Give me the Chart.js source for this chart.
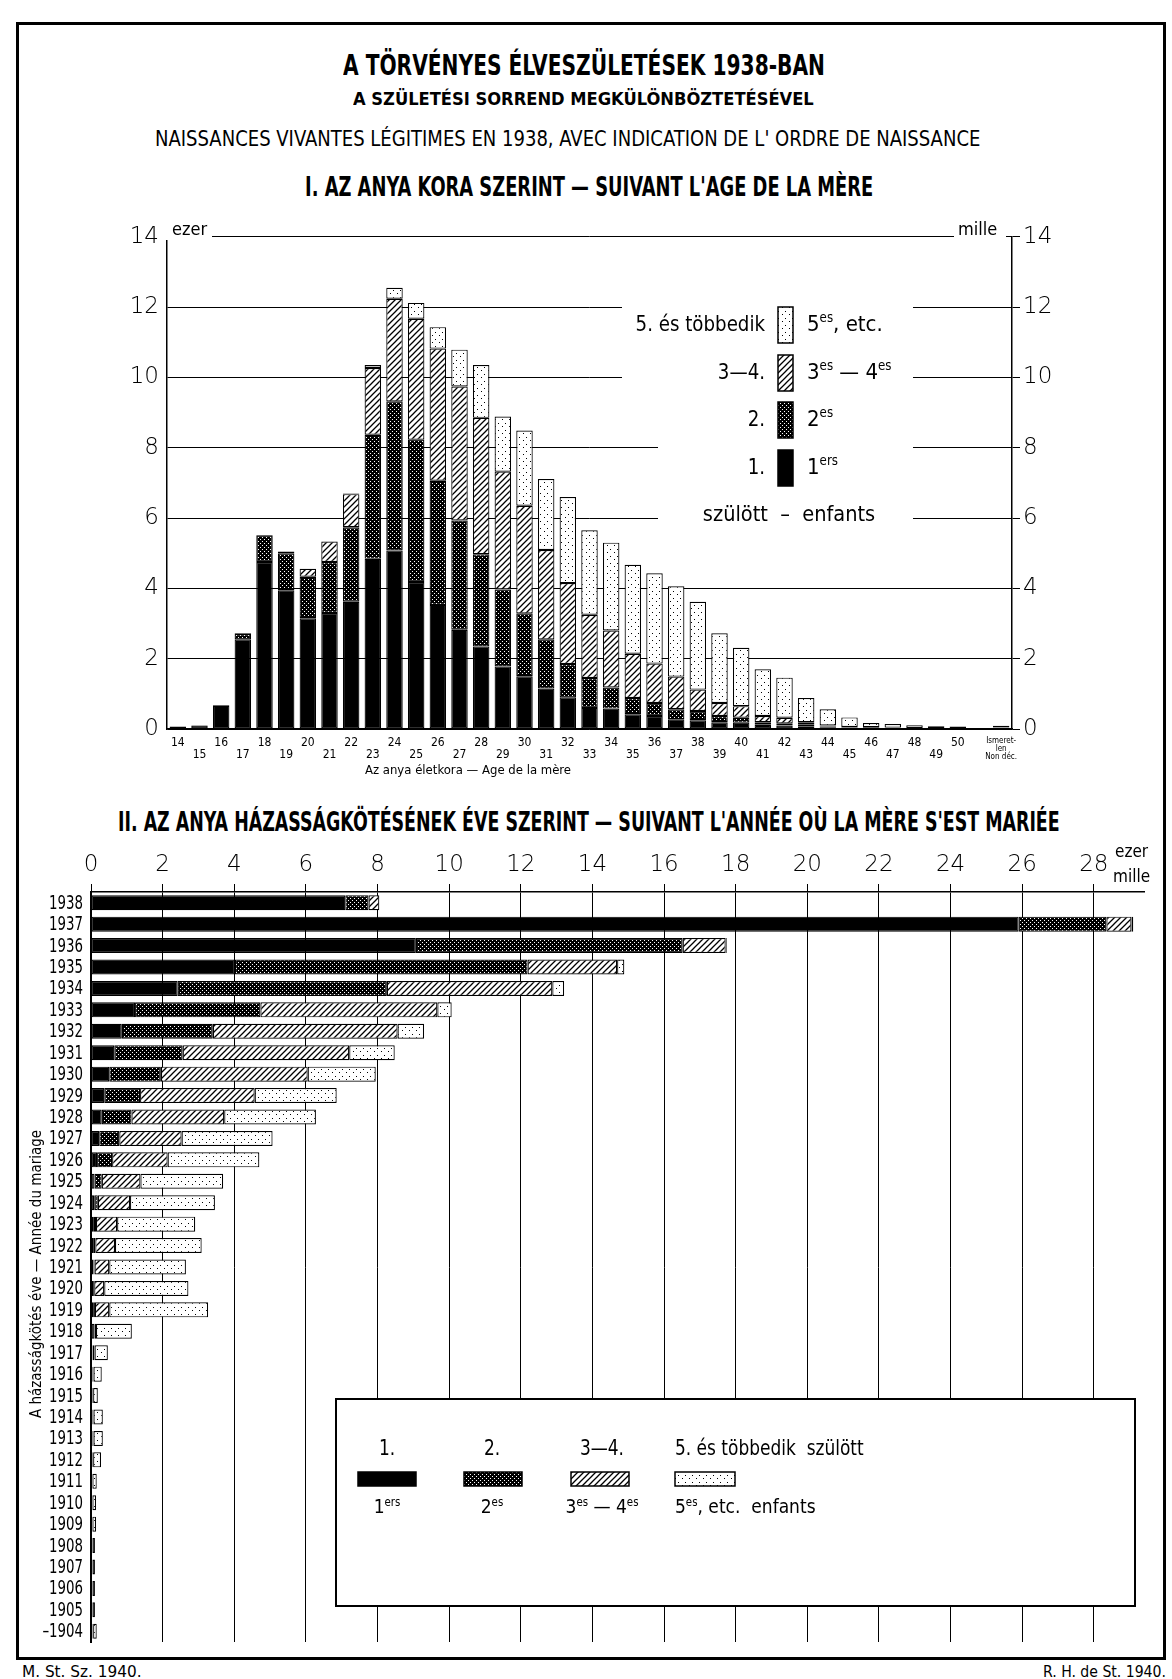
<!DOCTYPE html>
<html>
<head>
<meta charset="utf-8">
<script src="https://cdn.jsdelivr.net/npm/chart.js@4.4.1/dist/chart.umd.min.js"></script>
<style>
body{margin:0;background:#fff;width:1172px;height:1679px;position:relative;overflow:hidden;font-family:"Liberation Sans Narrow","DejaVu Sans Condensed","Liberation Sans",sans-serif;color:#000;}
.frame{position:absolute;left:16px;top:22px;width:1144px;height:1632px;border:3px solid #000;}
.t{position:absolute;white-space:nowrap;line-height:1;transform-origin:0 50%;}
canvas{position:absolute;}
</style>
</head>
<body>
<div class="frame"></div>
<div class="t" data-x="343" data-y="66" data-w="482" style="font-size:28px;font-weight:bold">A TÖRVÉNYES ÉLVESZÜLETÉSEK 1938-BAN</div>
<div class="t" data-x="353" data-y="99" data-w="461" style="font-size:17px;font-weight:bold">A SZÜLETÉSI SORREND MEGKÜLÖNBÖZTETÉSÉVEL</div>
<div class="t" data-x="155" data-y="139" data-w="825" style="font-size:21px">NAISSANCES VIVANTES LÉGITIMES EN 1938, AVEC INDICATION DE L' ORDRE DE NAISSANCE</div>
<div class="t" data-x="305" data-y="187" data-w="568" style="font-size:26px;font-weight:bold">I. AZ ANYA KORA SZERINT — SUIVANT L'AGE DE LA MÈRE</div>
<div class="t" data-x="118" data-y="822" data-w="942" style="font-size:26px;font-weight:bold">II. AZ ANYA HÁZASSÁGKÖTÉSÉNEK ÉVE SZERINT — SUIVANT L'ANNÉE OÙ LA MÈRE S'EST MARIÉE</div>
<div class="t" data-x="22" data-y="1672" data-w="120" style="font-size:16px">M. St. Sz. 1940.</div>
<div class="t" data-x="1043" data-y="1672" data-w="123" style="font-size:16px">R. H. de St. 1940.</div>

<canvas id="c1" width="1060" height="580" style="left:60px;top:215px"></canvas>
<canvas id="c2" width="1150" height="818" style="left:16px;top:840px"></canvas>

<script>
"use strict";

var FONT = '"Liberation Sans Narrow","DejaVu Sans Condensed","Liberation Sans",sans-serif';
var DIGITS = '"DejaVu Sans",sans-serif';

// I. by age of mother (thousands)
var ages = ['14','15','16','17','18','19','20','21','22','23','24','25','26','27','28','29','30','31','32',
	'33','34','35','36','37','38','39','40','41','42','43','44','45','46','47','48','49','50','','Ismeretlen'];
var ageFirst  = [0.07,0.10,0.66,2.55,4.75,3.95,3.15,3.30,3.62,4.84,5.08,4.18,3.53,2.82,2.35,1.78,1.50,1.15,0.90,
	0.60,0.58,0.42,0.37,0.28,0.25,0.19,0.18,0.12,0.10,0.08,0.05,0.03,0.02,0.01,0.01,0.00,0.00,null,0.04];
var ageSecond = [0.00,0.01,0.02,0.15,0.75,1.05,1.18,1.45,2.12,3.53,4.24,4.05,3.53,3.11,2.62,2.19,1.79,1.40,0.95,
	0.85,0.60,0.46,0.37,0.28,0.26,0.18,0.14,0.07,0.06,0.04,0.02,0.01,0.01,0.01,0.01,0.00,0.00,null,0.01];
var ageThird  = [0.00,0.00,0.00,0.02,0.02,0.05,0.23,0.58,0.94,1.90,2.92,3.44,3.76,3.81,3.88,3.35,3.06,2.54,2.30,
	1.80,1.62,1.26,1.12,0.93,0.61,0.37,0.33,0.18,0.16,0.07,0.03,0.02,0.02,0.02,0.01,0.01,0.01,null,0.01];
var ageFifth  = [0.00,0.00,0.00,0.00,0.00,0.00,0.00,0.00,0.02,0.08,0.31,0.45,0.61,1.05,1.50,1.57,2.14,2.02,2.45,
	2.40,2.50,2.53,2.57,2.57,2.50,1.98,1.66,1.33,1.14,0.69,0.46,0.27,0.12,0.10,0.08,0.07,0.06,null,0.03];
var ageTicks = [0,2,4,6,8,10,12,14];

// II. by year of marriage (thousands)
var years = ['1938','1937','1936','1935','1934','1933','1932','1931','1930','1929','1928','1927','1926','1925',
	'1924','1923','1922','1921','1920','1919','1918','1917','1916','1915','1914','1913','1912','1911','1910',
	'1909','1908','1907','1906','1905','\u20131904'];
var yrFirst  = [7.10,25.90,9.07,4.02,2.42,1.23,0.86,0.65,0.51,0.37,0.30,0.23,0.17,0.10,0.09,0.08,0.08,0.07,0.06,
	0.06,0.10,0.04,0.03,0.03,0.03,0.03,0.03,0.02,0.02,0.02,0.02,0.02,0.02,0.02,0.04];
var yrSecond = [0.65,2.45,7.45,8.17,5.84,3.50,2.54,1.91,1.44,1.00,0.83,0.56,0.42,0.20,0.10,0.06,0.04,0.03,0.03,
	0.05,0.01,0.01,0.01,0.01,0.01,0.01,0.01,0.01,0.01,0.01,0.01,0.01,0.01,0.01,0.01];
var yrThird  = [0.30,0.70,1.20,2.50,4.62,4.94,5.16,4.65,4.10,3.20,2.59,1.74,1.55,1.08,0.90,0.59,0.55,0.41,0.28,
	0.40,0.03,0.05,0.03,0.02,0.03,0.03,0.02,0.01,0.01,0.01,0.01,0.01,0.01,0.01,0.01];
var yrFifth  = [0.00,0.05,0.03,0.20,0.33,0.40,0.74,1.27,1.90,2.29,2.56,2.54,2.56,2.31,2.37,2.18,2.42,2.14,2.35,
	2.76,1.00,0.37,0.23,0.13,0.26,0.26,0.22,0.12,0.10,0.10,0.07,0.07,0.07,0.07,0.10];

var orderTop    = ['1.', '2.', '3\u20144.', '5. és többedik'];
var orderBottom = ['1', '2', '3', '5'];

// fit the html titles to the widths of the original lettering
var ts = document.querySelectorAll('.t');
for (var i = 0; i < ts.length; i++) {
	var el = ts[i];
	el.style.left = el.getAttribute('data-x') + 'px';
	el.style.top = (+el.getAttribute('data-y') - el.offsetHeight / 2) + 'px';
	el.style.transform = 'scaleX(' + (+el.getAttribute('data-w') / el.offsetWidth) + ')';
}

function makePattern(kind) {
	var c = document.createElement('canvas');
	var g = c.getContext('2d');
	if (kind == 'cross') {
		c.width = c.height = 4;
		g.fillStyle = '#000'; g.fillRect(0, 0, 4, 4);
		g.fillStyle = '#fff'; g.fillRect(0, 0, 1, 1); g.fillRect(2, 2, 1, 1);
	} else if (kind == 'hatch') {
		c.width = c.height = 6;
		g.fillStyle = '#fff'; g.fillRect(0, 0, 6, 6);
		g.strokeStyle = '#000'; g.lineWidth = 1.3;
		g.beginPath();
		g.moveTo(0, 6); g.lineTo(6, 0);
		g.moveTo(-1, 1); g.lineTo(1, -1);
		g.moveTo(5, 7); g.lineTo(7, 5);
		g.stroke();
	} else {
		c.width = c.height = 7;
		g.fillStyle = '#fff'; g.fillRect(0, 0, 7, 7);
		g.fillStyle = '#000'; g.fillRect(1, 1, 1, 1); g.fillRect(4, 5, 1, 1);
	}
	return g.createPattern(c, 'repeat');
}

var fills = ['#000', makePattern('cross'), makePattern('hatch'), makePattern('dots')];

function narrow(c, text, x, y, size, align, weight, sx) {
	c.save();
	c.font = (weight || 'normal') + ' ' + size + 'px ' + FONT;
	c.textBaseline = 'middle';
	c.textAlign = align || 'left';
	c.translate(x, y);
	c.scale(sx || 1, 1);
	c.fillStyle = '#000';
	c.fillText(text, 0, 0);
	c.restore();
}

// parts: [text, superscript?]
function drawSup(c, parts, x, y, size, align) {
	var w = 0;
	c.save();
	c.fillStyle = '#000';
	c.textBaseline = 'middle';
	c.textAlign = 'left';
	for (var i = 0; i < parts.length; i++) {
		c.font = (parts[i][1] ? size * 0.6 : size) + 'px ' + FONT;
		w += c.measureText(parts[i][0]).width;
	}
	var sx = align == 'center' ? x - w / 2 : (align == 'right' ? x - w : x);
	for (var i = 0; i < parts.length; i++) {
		var s = parts[i][1] ? size * 0.6 : size;
		c.font = s + 'px ' + FONT;
		c.fillText(parts[i][0], sx, parts[i][1] ? y - size * 0.28 : y);
		sx += c.measureText(parts[i][0]).width;
	}
	c.restore();
}

function swatch(c, fill, x, y, w, h) {
	c.save();
	c.fillStyle = fill;
	c.fillRect(x, y, w, h);
	c.strokeStyle = '#000'; c.lineWidth = 1.5;
	c.strokeRect(x, y, w, h);
	c.restore();
}

var topDecor = {
	id: 'topDecor',
	beforeDatasetsDraw: function(chart) {
		var c = chart.ctx;
		c.save();
		c.fillStyle = '#fff';
		c.fillRect(562, 75, 291, 110);
		c.fillRect(598, 185, 255, 130);
		c.fillRect(100, 5, 52, 20);
		c.fillRect(894, 5, 52, 20);
		c.restore();
	},
	afterDraw: function(chart) {
		var c = chart.ctx;
		narrow(c, 'ezer', 112, 15, 18);
		narrow(c, 'mille', 898, 15, 18);
		// legend, highest order on top
		var rowY = [110, 158, 205, 253];
		var right = [[['5', false], ['es', true], [', etc.', false]], [['3', false], ['es', true], [' \u2014 4', false], ['es', true]],
			[['2', false], ['es', true]], [['1', false], ['ers', true]]];
		for (var i = 0; i < 4; i++) {
			var k = 3 - i;
			narrow(c, orderTop[k], 705, rowY[i], 22, 'right', 'normal', 0.92);
			swatch(c, fills[k], 718, rowY[i] - 18, 15, 36);
			drawSup(c, right[i], 747, rowY[i], 22, 'left');
		}
		narrow(c, 'szülött  \u2013  enfants', 729, 300, 22, 'center', 'normal', 0.98);
		narrow(c, 'Az anya életkora \u2014 Age de la mère', 408, 556, 13, 'center');
	}
};

var topDatasets = [ageFirst, ageSecond, ageThird, ageFifth].map(function(d, i) {
	return {
		label: orderTop[i],
		data: d,
		backgroundColor: fills[i],
		borderColor: '#000',
		borderWidth: 1.2,
		borderSkipped: false,
		barPercentage: 0.76,
		categoryPercentage: 1
	};
});

new Chart(document.getElementById('c1').getContext('2d'), {
	type: 'bar',
	data: { labels: ages, datasets: topDatasets },
	options: {
		responsive: false,
		animation: false,
		devicePixelRatio: 1,
		layout: { padding: { top: 19, right: 48, left: 0, bottom: 0 } },
		plugins: { legend: { display: false }, tooltip: { enabled: false } },
		scales: {
			x: {
				stacked: true,
				grid: { display: false },
				border: { color: '#000', width: 1.5 },
				afterFit: function(s) { s.height = 66; },
				ticks: {
					autoSkip: false, maxRotation: 0, padding: 0, color: '#000',
					font: function(ctx) {
						return ctx.index == ages.length - 1 ? { family: FONT, size: 8, lineHeight: 1 } : { family: FONT, size: 12, lineHeight: 1 };
					},
					callback: function(v) {
						var l = ages[v];
						if (l === '') return '';
						if (l == 'Ismeretlen') return ['Ismeret-', 'len', 'Non déc.'];
						return (+l % 2 == 0) ? [l, ''] : ['', l];
					}
				}
			},
			y: {
				stacked: true, min: 0, max: 14,
				afterFit: function(s) { s.width = 107; },
				afterBuildTicks: function(s) { s.ticks = ageTicks.map(function(v) { return { value: v }; }); },
				grid: { color: '#000', lineWidth: 1, drawTicks: false },
				border: { color: '#000', width: 1.5 },
				ticks: { padding: 8, color: '#000', font: { family: DIGITS, size: 23, weight: 200 } }
			},
			y2: {
				position: 'right', min: 0, max: 14,
				afterFit: function(s) { s.width = 60; },
				afterBuildTicks: function(s) { s.ticks = ageTicks.map(function(v) { return { value: v }; }); },
				grid: { drawOnChartArea: false, color: '#000', tickLength: 8 },
				border: { color: '#000', width: 1.5 },
				ticks: { padding: 3, color: '#000', font: { family: DIGITS, size: 23, weight: 200 } }
			}
		}
	},
	plugins: [topDecor]
});

var bottomDecor = {
	id: 'bottomDecor',
	afterDraw: function(chart) {
		var c = chart.ctx;
		var ys = chart.scales.y;
		// year labels, condensed, right-aligned next to the axis
		for (var i = 0; i < years.length; i++) {
			narrow(c, years[i], 67, ys.getPixelForValue(i) + 1, 19, 'right', 'normal', 0.78);
		}
		narrow(c, 'ezer', 1099, 13, 17);
		narrow(c, 'mille', 1097, 38, 17);
		// rotated axis title
		c.save();
		c.translate(21, 434);
		c.rotate(-Math.PI / 2);
		narrow(c, 'A házasságkötés éve \u2014 Année du mariage', 0, 0, 15, 'center');
		c.restore();
		// legend box
		c.save();
		c.fillStyle = '#fff';
		c.fillRect(320, 559, 799, 207);
		c.strokeStyle = '#000'; c.lineWidth = 2;
		c.strokeRect(320, 559, 799, 207);
		c.restore();
		var colX = [371, 476, 586];
		var sw = [342, 448, 555];
		var under = [[['1', false], ['ers', true]], [['2', false], ['es', true]], [['3', false], ['es', true], [' \u2014 4', false], ['es', true]]];
		for (var i = 0; i < 3; i++) {
			narrow(c, orderTop[i], colX[i], 610, 21, 'center', 'normal', 0.9);
			swatch(c, fills[i], sw[i], 632, 58, 14);
			drawSup(c, under[i], colX[i], 668, 19, 'center');
		}
		narrow(c, '5. és többedik  szülött', 659, 610, 21, 'left', 'normal', 0.9);
		swatch(c, fills[3], 659, 632, 60, 14);
		drawSup(c, [['5', false], ['es', true], [', etc.  enfants', false]], 659, 668, 19, 'left');
	}
};

var bottomDatasets = [yrFirst, yrSecond, yrThird, yrFifth].map(function(d, i) {
	return {
		label: orderBottom[i],
		data: d,
		backgroundColor: fills[i],
		borderColor: '#000',
		borderWidth: 1.2,
		borderSkipped: false,
		barPercentage: 0.7,
		categoryPercentage: 1
	};
});

new Chart(document.getElementById('c2').getContext('2d'), {
	type: 'bar',
	data: { labels: years, datasets: bottomDatasets },
	options: {
		indexAxis: 'y',
		responsive: false,
		animation: false,
		devicePixelRatio: 1,
		layout: { padding: { top: 0, right: 22, left: 0, bottom: 16 } },
		plugins: { legend: { display: false }, tooltip: { enabled: false } },
		scales: {
			x: {
				position: 'top', stacked: true, min: 0, max: 29.4,
				afterFit: function(s) { s.height = 52; },
				grid: { color: '#000', lineWidth: 1, tickLength: 8 },
				border: { color: '#000', width: 1.5 },
				ticks: { stepSize: 2, includeBounds: false, padding: 5, color: '#000', font: { family: DIGITS, size: 23, weight: 200 } }
			},
			y: {
				stacked: true,
				afterFit: function(s) { s.width = 75; },
				grid: { display: false },
				border: { color: '#000', width: 2 },
				ticks: { display: false, autoSkip: false }
			}
		}
	},
	plugins: [bottomDecor]
});
</script>
</body>
</html>
